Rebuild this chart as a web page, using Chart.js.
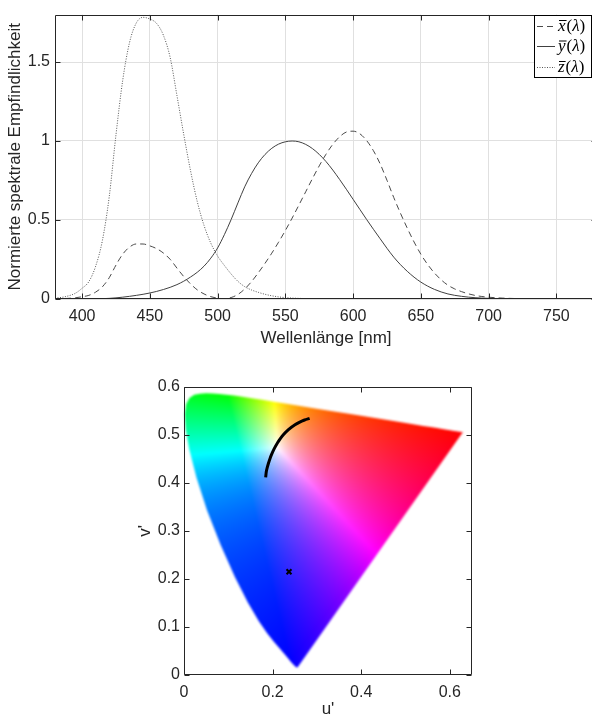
<!DOCTYPE html>
<html>
<head>
<meta charset="utf-8">
<script src="https://cdn.jsdelivr.net/npm/chart.js@4.4.1/dist/chart.umd.min.js"></script>
<style>
  html, body { margin: 0; padding: 0; background: #fff; overflow: hidden; width: 592px; height: 722px; }
  canvas { position: absolute; left: 0; }
  #cmf { top: 0; }
  #cie { top: 360px; }
</style>
</head>
<body>
<canvas id="cmf" width="600" height="360"></canvas>
<canvas id="cie" width="592" height="362"></canvas>
<script>
// CIE 1931 2° colour matching functions, 5 nm steps
const wavelengths = [380,385,390,395,400,405,410,415,420,425,430,435,440,445,450,455,460,465,470,475,
  480,485,490,495,500,505,510,515,520,525,530,535,540,545,550,555,560,565,570,575,
  580,585,590,595,600,605,610,615,620,625,630,635,640,645,650,655,660,665,670,675,
  680,685,690,695,700,705,710,715,720,725,730,735,740,745,750,755,760,765,770,775,780];
const xBar = [0.001368,0.002236,0.004243,0.00765,0.01431,0.02319,0.04351,0.07763,0.13438,0.21477,
  0.2839,0.3285,0.34828,0.34806,0.3362,0.3187,0.2908,0.2511,0.19536,0.1421,
  0.09564,0.05795,0.03201,0.0147,0.0049,0.0024,0.0093,0.0291,0.06327,0.1096,
  0.1655,0.22575,0.2904,0.3597,0.43345,0.51205,0.5945,0.6784,0.7621,0.8425,
  0.9163,0.9786,1.0263,1.0567,1.0622,1.0456,1.0026,0.9384,0.85445,0.7514,
  0.6424,0.5419,0.4479,0.3608,0.2835,0.2187,0.1649,0.1212,0.0874,0.0636,
  0.04677,0.0329,0.0227,0.01584,0.011359,0.008111,0.00579,0.004109,0.002899,0.002049,
  0.00144,0.001,0.00069,0.000476,0.000332,0.000235,0.000166,0.000117,0.000083,0.000059,0.000042];
const yBar = [0.000039,0.000064,0.00012,0.000217,0.000396,0.00064,0.00121,0.00218,0.004,0.0073,
  0.0116,0.01684,0.023,0.0298,0.038,0.048,0.06,0.0739,0.09098,0.1126,
  0.13902,0.1693,0.20802,0.2586,0.323,0.4073,0.503,0.6082,0.71,0.7932,
  0.862,0.91485,0.954,0.9803,0.99495,1.0,0.995,0.9786,0.952,0.9154,
  0.87,0.8163,0.757,0.6949,0.631,0.5668,0.503,0.4412,0.381,0.321,
  0.265,0.217,0.175,0.1382,0.107,0.0816,0.061,0.04458,0.032,0.0232,
  0.017,0.01192,0.00821,0.005723,0.004102,0.002929,0.002091,0.001484,0.001047,0.00074,
  0.00052,0.000361,0.000249,0.000172,0.00012,0.000085,0.00006,0.000042,0.00003,0.000021,0.000015];
const zBar = [0.00645,0.01055,0.02005,0.03621,0.06785,0.1102,0.2074,0.3713,0.6456,1.03905,
  1.3856,1.62296,1.74706,1.7826,1.77211,1.7441,1.6692,1.5281,1.28764,1.0419,
  0.81295,0.6162,0.46518,0.3533,0.272,0.2123,0.1582,0.1117,0.07825,0.05725,
  0.04216,0.02984,0.0203,0.0134,0.00875,0.00575,0.0039,0.00275,0.0021,0.0018,
  0.00165,0.0014,0.0011,0.001,0.0008,0.0006,0.00034,0.00024,0.00019,0.0001,
  0.00005,0.00003,0.00002,0.00001,0,0,0,0,0,0,
  0,0,0,0,0,0,0,0,0,0,
  0,0,0,0,0,0,0,0,0,0,0];

const cmfLetters = ['x', 'y', 'z'];
const cmfXTicks = [400, 450, 500, 550, 600, 650, 700, 750];
const cmfYTicks = [0, 0.5, 1, 1.5];

// Planckian locus (u', v'), roughly 2300 K up to ~22000 K
const planckU = [0.2835, 0.2721, 0.2602, 0.2505, 0.2357, 0.2252, 0.2174, 0.2115, 0.2034, 0.1982, 0.1946, 0.1903, 0.1878, 0.1857, 0.1843];
const planckV = [0.5346, 0.5312, 0.5265, 0.5215, 0.5113, 0.5015, 0.4926, 0.4845, 0.4711, 0.4605, 0.4522, 0.4401, 0.4318, 0.4234, 0.4117];
// single chromaticity point
const markU = [0.237];
const markV = [0.215];
const cieUTicks = [0, 0.2, 0.4, 0.6];
const cieVTicks = [0, 0.1, 0.2, 0.3, 0.4, 0.5, 0.6];

Chart.defaults.font.family = "'Liberation Sans', Arial, sans-serif";
Chart.defaults.color = '#262626';

const ink = '#262626';

// MATLAB-like box with inward tick marks
const axisBox = {
  id: 'axisBox',
  afterDatasetsDraw(chart) {
    const { ctx, chartArea: a, scales: { x, y } } = chart;
    const L = Math.round(a.left) + 0.5, R = Math.round(a.right) - 0.5;
    const T = Math.round(a.top) + 0.5, B = Math.round(a.bottom) - 0.5;
    ctx.save();
    ctx.strokeStyle = ink;
    ctx.lineWidth = 1;
    ctx.beginPath();
    ctx.rect(L, T, R - L, B - T);
    x.ticks.forEach(t => {
      const px = Math.round(x.getPixelForValue(t.value)) + 0.5;
      ctx.moveTo(px, B); ctx.lineTo(px, B - 5);
      ctx.moveTo(px, T); ctx.lineTo(px, T + 5);
    });
    y.ticks.forEach(t => {
      const py = Math.round(y.getPixelForValue(t.value)) + 0.5;
      ctx.moveTo(L, py); ctx.lineTo(L + 5, py);
      ctx.moveTo(R, py); ctx.lineTo(R - 5, py);
    });
    ctx.stroke();
    ctx.restore();
  }
};

// boxed legend: line sample, then a barred italic letter and (λ)
const mathLegend = {
  id: 'mathLegend',
  afterDraw(chart) {
    const ctx = chart.ctx;
    const bx = 534, by = 15, bw = 57, bh = 62;
    const serif = "'Liberation Serif', 'DejaVu Serif', serif";
    ctx.save();
    ctx.fillStyle = '#fff';
    ctx.fillRect(bx, by, bw, bh);
    ctx.strokeStyle = '#000';
    ctx.lineWidth = 1;
    ctx.strokeRect(bx + 0.5, by + 0.5, bw, bh);
    chart.data.datasets.forEach((ds, i) => {
      const cy = by + 10.5 + i * 20.5;
      ctx.strokeStyle = ds.borderColor;
      ctx.lineWidth = ds.borderWidth;
      ctx.setLineDash(ds.borderDash || []);
      ctx.beginPath();
      ctx.moveTo(bx + 3, Math.round(cy) + 0.5);
      ctx.lineTo(bx + 21, Math.round(cy) + 0.5);
      ctx.stroke();
      ctx.setLineDash([]);

      ctx.fillStyle = '#000';
      ctx.textBaseline = 'alphabetic';
      const base = cy + 5;
      let tx = bx + 24;
      ctx.font = 'italic 17px ' + serif;
      const letter = cmfLetters[i];
      const lw = ctx.measureText(letter).width;
      ctx.fillText(letter, tx, base);
      // bar over the letter
      ctx.fillRect(tx + 1, base - 10.5, lw, 1);
      tx += lw + 1;
      ctx.font = '17px ' + serif;
      ctx.fillText('(', tx, base);
      tx += ctx.measureText('(').width;
      ctx.font = 'italic 17px ' + serif;
      ctx.fillText('\u03bb', tx, base);
      tx += ctx.measureText('\u03bb').width;
      ctx.font = '17px ' + serif;
      ctx.fillText(')', tx, base);
    });
    ctx.restore();
  }
};

const cmfSeries = [xBar, yBar, zBar];
const cmfDash = [[6, 4], [], [1, 1.5]];
const cmfColor = ['#4a4a4a', '#404040', '#555555'];

new Chart(document.getElementById('cmf'), {
  type: 'line',
  data: {
    datasets: cmfSeries.map((s, k) => ({
      label: cmfLetters[k] + '\u0304(\u03bb)',
      data: wavelengths.map((w, i) => ({ x: w, y: s[i] })),
      borderColor: cmfColor[k],
      borderWidth: 1,
      borderDash: cmfDash[k],
      pointRadius: 0,
      cubicInterpolationMode: 'monotone',
      fill: false
    }))
  },
  options: {
    responsive: false,
    animation: false,
    events: [],
    layout: { padding: { top: 7, right: 3, left: 0, bottom: 0 } },
    plugins: { legend: { display: false }, tooltip: { enabled: false } },
    scales: {
      x: {
        type: 'linear', min: 380, max: 780,
        afterBuildTicks: s => { s.ticks = cmfXTicks.map(v => ({ value: v })); },
        afterFit: s => { s.height = 61; },
        grid: { color: '#e0e0e0', drawTicks: false },
        border: { display: false },
        ticks: { padding: 8, font: { size: 16 }, color: ink, autoSkip: false, maxRotation: 0, callback: v => String(v) },
        title: { display: true, text: 'Wellenlänge [nm]', font: { size: 17 }, color: ink, padding: { top: 0, bottom: 11 } }
      },
      y: {
        type: 'linear', min: 0, max: 1.8,
        afterBuildTicks: s => { s.ticks = cmfYTicks.map(v => ({ value: v })); },
        afterFit: s => { s.width = 55; },
        grid: { color: '#e0e0e0', drawTicks: false },
        border: { display: false },
        ticks: { padding: 5, font: { size: 16 }, color: ink, autoSkip: false, callback: v => String(v) },
        title: { display: true, text: 'Normierte spektrale Empfindlichkeit', font: { size: 17 }, color: ink, padding: { top: 5, bottom: 0 } }
      }
    }
  },
  plugins: [axisBox, mathLegend]
});

// u'v' -> display colour, via CIE RGB primaries, clipped and max-normalised
function uvToRgb(u, v) {
  const d = 6 * u - 16 * v + 12;
  const cx = 9 * u / d, cy = 4 * v / d, cz = 1 - cx - cy;
  let r = 2.36461 * cx - 0.89654 * cy - 0.46807 * cz;
  let g = -0.51517 * cx + 1.42641 * cy + 0.08876 * cz;
  let b = 0.00520 * cx - 0.01441 * cy + 1.00920 * cz;
  r = Math.max(r, 0); g = Math.max(g, 0); b = Math.max(b, 0);
  const m = Math.max(r, g, b) || 1;
  const to8 = c => Math.round(255 * Math.min(1, Math.pow(c / m, 0.85)));
  return [to8(r), to8(g), to8(b)];
}

// paints the colour field inside the spectral locus (dataset 0)
const gamutFill = {
  id: 'gamutFill',
  beforeDatasetsDraw(chart) {
    const { ctx, chartArea: a, scales: { x, y } } = chart;
    const w = Math.ceil(a.right - a.left), h = Math.ceil(a.bottom - a.top);
    const tile = document.createElement('canvas');
    tile.width = w; tile.height = h;
    const tc = tile.getContext('2d');
    const img = tc.createImageData(w, h);
    for (let j = 0; j < h; j++) {
      const vv = y.getValueForPixel(a.top + j + 0.5);
      for (let i = 0; i < w; i++) {
        const uu = x.getValueForPixel(a.left + i + 0.5);
        const [r, g, b] = uvToRgb(uu, vv);
        const k = (j * w + i) * 4;
        img.data[k] = r; img.data[k + 1] = g; img.data[k + 2] = b; img.data[k + 3] = 255;
      }
    }
    tc.putImageData(img, 0, 0);

    const off = document.createElement('canvas');
    off.width = chart.width; off.height = chart.height;
    const oc = off.getContext('2d');
    oc.beginPath();
    chart.data.datasets[0].data.forEach((p, k) => {
      const px = x.getPixelForValue(p.x), py = y.getPixelForValue(p.y);
      if (k) oc.lineTo(px, py); else oc.moveTo(px, py);
    });
    oc.closePath();
    oc.clip();
    oc.drawImage(tile, a.left, a.top);

    ctx.save();
    ctx.filter = 'blur(0.8px)';
    ctx.drawImage(off, 0, 0);
    ctx.restore();
  }
};

const locus = wavelengths.map((w, i) => {
  const s = xBar[i] + 15 * yBar[i] + 3 * zBar[i];
  return { x: 4 * xBar[i] / s, y: 9 * yBar[i] / s };
});

new Chart(document.getElementById('cie'), {
  type: 'scatter',
  data: {
    datasets: [
      { data: locus, showLine: false, pointRadius: 0 },
      {
        data: planckU.map((u, i) => ({ x: u, y: planckV[i] })),
        showLine: true, borderColor: '#000', borderWidth: 3, pointRadius: 0,
        cubicInterpolationMode: 'monotone'
      },
      {
        data: markU.map((u, i) => ({ x: u, y: markV[i] })),
        pointStyle: 'crossRot', pointRadius: 3.5, borderWidth: 2, borderColor: '#000'
      }
    ]
  },
  options: {
    responsive: false,
    animation: false,
    events: [],
    layout: { padding: { top: 27, right: 120, left: 130, bottom: 0 } },
    plugins: { legend: { display: false }, tooltip: { enabled: false } },
    scales: {
      x: {
        type: 'linear', min: 0, max: 0.65,
        afterBuildTicks: s => { s.ticks = cieUTicks.map(v => ({ value: v })); },
        afterFit: s => { s.height = 47; },
        grid: { display: false, drawTicks: false },
        border: { display: false },
        ticks: { padding: 8, font: { size: 16 }, color: ink, autoSkip: false, maxRotation: 0, callback: v => String(v) },
        title: { display: true, text: "u'", font: { size: 17 }, color: ink, padding: { top: 0, bottom: 2 } }
      },
      y: {
        type: 'linear', min: 0, max: 0.6,
        afterBuildTicks: s => { s.ticks = cieVTicks.map(v => ({ value: v })); },
        afterFit: s => { s.width = 54; },
        grid: { display: false, drawTicks: false },
        border: { display: false },
        ticks: { padding: 4, font: { size: 16 }, color: ink, autoSkip: false, callback: v => String(v) },
        title: { display: true, text: "v'", font: { size: 17 }, color: ink, padding: { top: 5, bottom: 0 } }
      }
    }
  },
  plugins: [gamutFill, axisBox]
});
</script>
</body>
</html>
